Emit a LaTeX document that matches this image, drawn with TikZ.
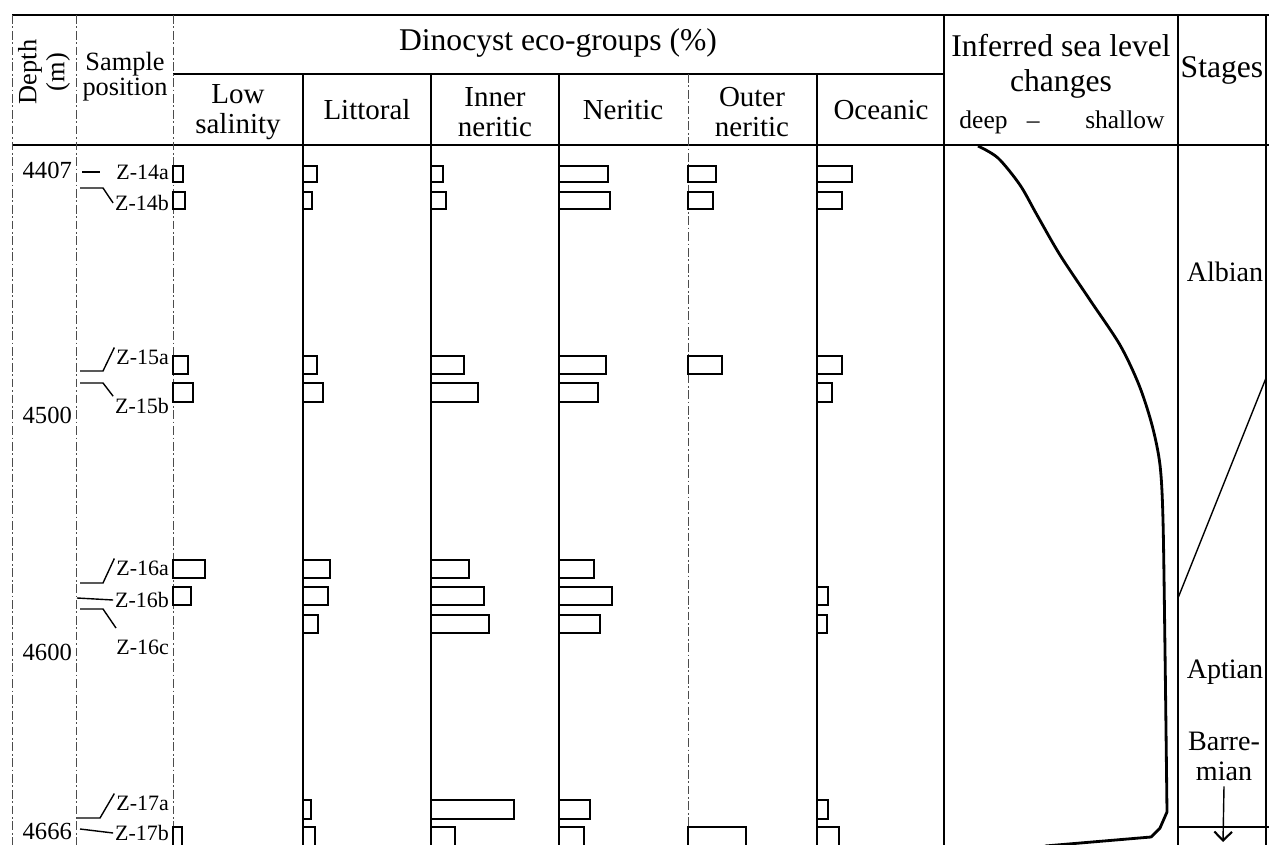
\documentclass[tikz,border=0pt]{standalone}
\usepackage{fontspec}
\setmainfont{Liberation Serif}
\usetikzlibrary{arrows.meta}
\usetikzlibrary{positioning}

\begin{document}
\begin{tikzpicture}[x=0.02cm, y=-0.02cm,
  grid/.style={line width=0.8pt},
  dgrid/.style={line width=0.5pt, black!70, dash pattern=on 5pt off 1.5pt on 1pt off 1.5pt},
  bar/.style={line width=0.9pt},
  head/.style={font=\fontsize{16.5}{17}\selectfont, align=center},
  big/.style={font=\fontsize{18}{20}\selectfont, align=center},
  smp/.style={font=\fontsize{12.5}{13}\selectfont, inner sep=1pt, anchor=east},
  dep/.style={font=\fontsize{14}{15}\selectfont, inner sep=1pt, anchor=east},
  stg/.style={font=\fontsize{16}{17}\selectfont, align=center},
  lead/.style={line width=0.8pt}]

  \useasboundingbox (0,0) rectangle (1269,845);
  \clip (0,0) rectangle (1269,845);

  % frame and column lines
  \draw[grid] (12,15) -- (1269,15);
  \draw[grid] (173,74) -- (944,74);
  \draw[grid] (12,145) -- (1269,145);
  \foreach \x in {12,76,173}
    \draw[dgrid] (\x,15) -- (\x,845);
  \draw[dgrid] (688,74) -- (688,845);
  \foreach \x in {303,431,559,817}
    \draw[grid] (\x,74) -- (\x,845);
  \foreach \x in {944,1178,1266}
    \draw[grid] (\x,15) -- (\x,845);

  % headers
  \node[head, font=\fontsize{15}{16}\selectfont, rotate=90] (depth) at (44,72) {Depth\\(m)};
  \node[head, font=\fontsize{15}{13}\selectfont] (sample) at (125,77) {Sample\\position};
  \node[big] (dino) at (558,43) {Dinocyst eco-groups (\%)};
  \node[head] (lowsal) at (238,112) {Low\\salinity};
  \node[head] (litt) at (367,110) {Littoral};
  \node[head] (inner) at (495,112) {Inner\\neritic};
  \node[head] (nerit) at (623,110) {Neritic};
  \node[head] (outer) at (752,112) {Outer\\neritic};
  \node[head] (ocean) at (881,110) {Oceanic};
  \node[big] (sealev) at (1061,66) {Inferred sea level\\changes};
  \node[font=\fontsize{14.5}{16}\selectfont] (deepsh) at (1062,122) {deep\hspace{11pt}--\hspace{26pt}shallow};
  \node[big] (stages) at (1222,70) {Stages};

  % depths
  \node[dep] (d4407) at (74,170) {4407};
  \node[dep] (d4500) at (74,415) {4500};
  \node[dep] (d4600) at (74,652) {4600};
  \node[dep] (d4666) at (74,831) {4666};

  % sample positions
  \node[smp] (z14a) at (171,172) {Z-14a};
  \node[smp] (z14b) at (171,203) {Z-14b};
  \node[smp] (z15a) at (171,357) {Z-15a};
  \node[smp] (z15b) at (171,406) {Z-15b};
  \node[smp] (z16a) at (171,568) {Z-16a};
  \node[smp] (z16b) at (171,600) {Z-16b};
  \node[smp] (z16c) at (171,647) {Z-16c};
  \node[smp] (z17a) at (171,803) {Z-17a};
  \node[smp] (z17b) at (171,833) {Z-17b};

  \draw[lead] (82,172) -- ([xshift=-8pt]z14a.west);
  \draw[lead] (80,188) -- (103,188) -- (z14b.west);
  \draw[lead] (80,371) -- (103,371) -- (z15a.north west);
  \draw[lead] (80,383) -- (103,383) -- (z15b.north west);
  \draw[lead] (80,583) -- (103,583) -- (z16a.north west);
  \draw[lead] (77,598) -- (z16b.west);
  \draw[lead] (80,609) -- (103,609) -- (116,628);
  \draw[lead] (77,818) -- (100,818) -- (z17a.north west);
  \draw[lead] (80,829) -- (z17b.west);

  % eco-group bars: top / height / six widths
  \foreach \yt/\h/\pa/\pb/\pc/\pd/\pe/\pf in {
      166/16/10/14/12/49/28/35,
      192/17/12/9/15/51/25/25,
      356/18/15/14/33/47/34/25,
      383/19/20/20/47/39/0/15,
      560/18/32/27/38/35/0/0,
      587/18/18/25/53/53/0/11,
      615/18/0/15/58/41/0/10,
      800/19/0/8/83/31/0/11,
      827/25/9/12/24/25/58/22} {
    \foreach \x/\w in {173/\pa, 303/\pb, 431/\pc, 559/\pd, 688/\pe, 817/\pf} {
      \ifnum\w>0 \draw[bar] (\x,\yt) rectangle ++(\w,\h); \fi
    }
  }

  % inferred sea level curve
  \draw[line width=1.6pt, line join=round]
    plot[smooth, tension=0.5] coordinates {(978,146) (998,158) (1020,185) (1037,215)
      (1060,255) (1090,300) (1120,345) (1139,385) (1152,425) (1160,465)
      (1163,520) (1165,650) (1167,812)}
    -- (1160,828) -- (1151,837) -- (1045,846);

  % stages
  \node[stg] (albian) at (1225,272) {Albian};
  \node[stg] (aptian) at (1225,672) {Aptian};
  \node[stg] (barrem) at (1224,756) {Barre-\\mian};
  \draw[grid] (1266,378) -- (1178,598);
  \draw[grid] (1178,827) -- (1269,827);
  \draw[line width=0.8pt, -{Straight Barb[length=5pt,width=10pt,line width=1.2pt]}]
    (barrem.south) -- (1223,842);
\end{tikzpicture}
\end{document}
